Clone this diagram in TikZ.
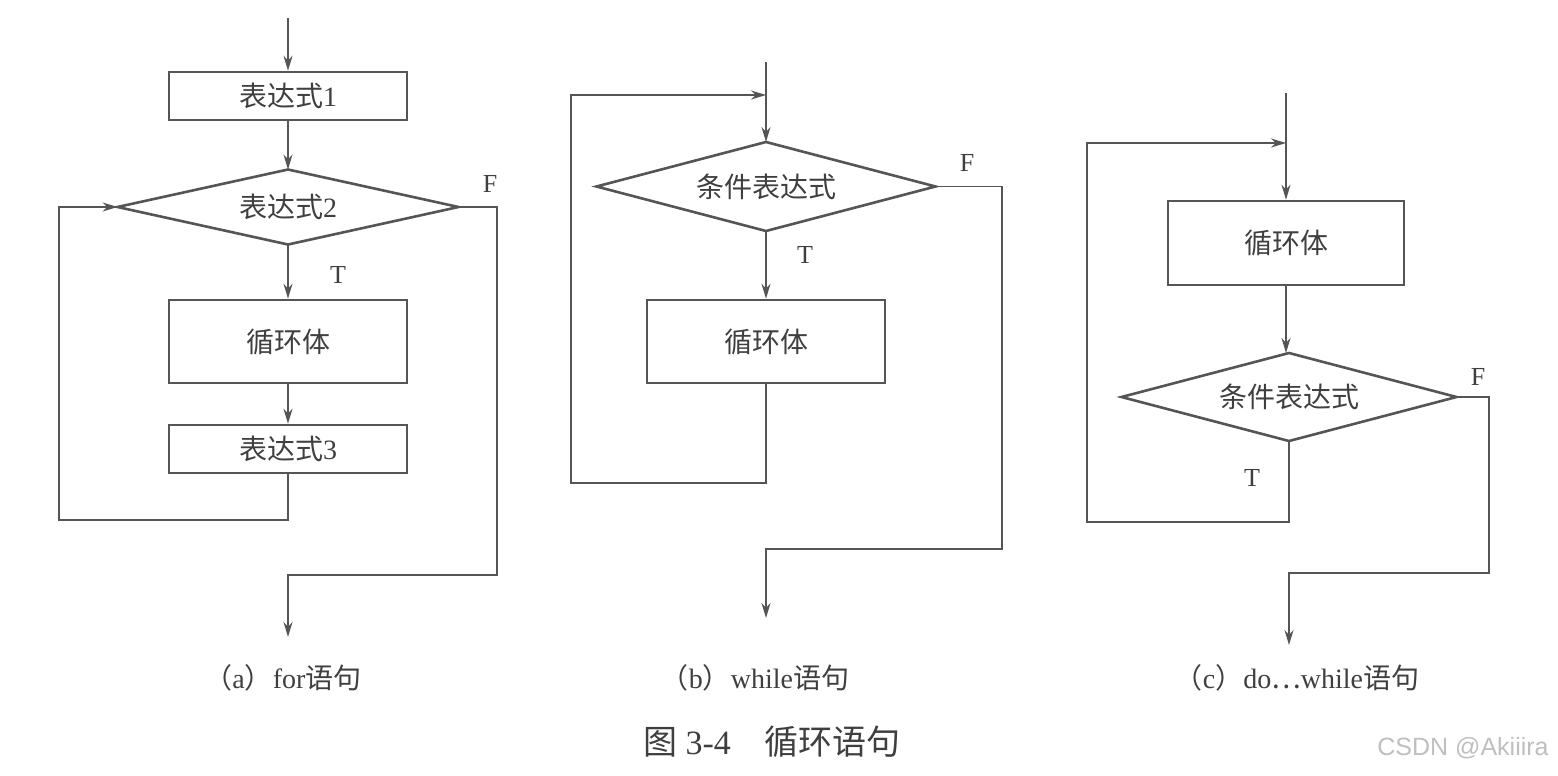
\documentclass[tikz,border=0pt]{standalone}
\usepackage{fontspec}
\setmainfont{Liberation Serif}
\newfontfamily\cjk{Noto Sans CJK SC}
\newfontfamily\wmfont{Liberation Sans}
\usetikzlibrary{shapes.geometric,arrows.meta}
\definecolor{ink}{HTML}{555555}
\definecolor{txt}{HTML}{3F3F3F}
\tikzset{
  boxnode/.style={draw=ink, line width=1.3pt, rectangle, inner sep=0pt, text=txt, font=\fontsize{14}{16}\selectfont},
  dianode/.style={draw=ink, line width=1.3pt, diamond, inner sep=0pt, outer sep=0pt},
  diatext/.style={text=txt, font=\fontsize{14}{16}\selectfont, inner sep=0pt},
  conn/.style={draw=ink, line width=0.9pt},
  arr/.style={conn, -{Stealth[length=7.5pt, width=4.5pt]}},
  tf/.style={text=txt, font=\fontsize{13}{15}\selectfont, inner sep=0pt},
  subcap/.style={text=txt, font=\fontsize{14}{16}\selectfont, inner sep=0pt},
}
\begin{document}
\begin{tikzpicture}[x=0.5pt, y=-0.5pt]
\useasboundingbox (0,0) rectangle (1558,776);
% ---------------- (a) for ----------------
\coordinate (a0) at (288,18);
\node[boxnode, minimum width=119pt, minimum height=24pt] (b1) at (288,96) {{\cjk 表达式}1};
\node[dianode, minimum width=170.5pt, minimum height=37.5pt] (d1) at (288,207) {};
\node[diatext] (d1t) at (d1.center) {{\cjk 表达式}2};
\node[boxnode, minimum width=119pt, minimum height=41.5pt] (b2) at (288,341.5) {\cjk 循环体};
\node[boxnode, minimum width=119pt, minimum height=24pt] (b3) at (288,449) {{\cjk 表达式}3};
\coordinate (la) at (59,520);
\coordinate (fa) at (497,575);
\coordinate (ae) at (288,637);
\draw[arr] (a0) -- (b1.north);
\draw[arr] (b1.south) -- (d1.north);
\draw[arr] (d1.south) -- (b2.north);
\draw[arr] (b2.south) -- (b3.north);
\draw[arr] (b3.south) |- (la) |- (d1.west);
\draw[arr] (d1.east) -| (fa) -| (ae);
\node[tf] (fa1) at (490,184) {F};
\node[tf] (ta1) at (338,275) {T};
\node[subcap] (capa) at (283,678) {{\cjk （}a{\cjk ）}for{\cjk 语句}};
% ---------------- (b) while ----------------
\coordinate (b0) at (766,62);
\coordinate (jb) at (766,95);
\node[dianode, minimum width=169.5pt, minimum height=44.5pt] (d2) at (766,186.5) {};
\node[diatext] (d2t) at (d2.center) {\cjk 条件表达式};
\node[boxnode, minimum width=119pt, minimum height=41.5pt] (b4) at (766,341.5) {\cjk 循环体};
\coordinate (lb) at (571,483);
\coordinate (fb) at (1002,549);
\coordinate (be) at (766,618);
\draw[conn] (b0) -- (jb);
\draw[arr] (jb) -- (d2.north);
\draw[arr] (d2.south) -- (b4.north);
\draw[arr] (b4.south) |- (lb) |- (jb);
\draw[arr] (d2.east) -| (fb) -| (be);
\node[tf] (fb1) at (967,163) {F};
\node[tf] (tb1) at (805,255) {T};
\node[subcap] (capb) at (755,678) {{\cjk （}b{\cjk ）}while{\cjk 语句}};
% ---------------- (c) do...while ----------------
\coordinate (c0) at (1286,93);
\coordinate (jc) at (1286,143);
\node[boxnode, minimum width=118pt, minimum height=42pt] (b5) at (1286,243) {\cjk 循环体};
\node[dianode, minimum width=167.5pt, minimum height=44pt] (d3) at (1289,397) {};
\node[diatext] (d3t) at (d3.center) {\cjk 条件表达式};
\coordinate (lc) at (1087,522);
\coordinate (fc) at (1489,573);
\coordinate (ce) at (1289,645);
\draw[conn] (c0) -- (jc);
\draw[arr] (jc) -- (b5.north);
\draw[arr] (b5.south) -- (b5.south |- d3.north);
\draw[arr] (d3.south) |- (lc) |- (jc);
\draw[arr] (d3.east) -| (fc) -| (ce);
\node[tf] (fc1) at (1478,377) {F};
\node[tf] (tc1) at (1252,478) {T};
\node[subcap] (capc) at (1297,678) {{\cjk （}c{\cjk ）}do{\cjk …}while{\cjk 语句}};
% ---------------- caption ----------------
\node[text=txt, font=\fontsize{17}{19}\selectfont, inner sep=0pt] (cap) at (772,742) {{\cjk 图} 3-4\hspace{1em}{\cjk 循环语句}};
\node[text=black!25, font=\wmfont\fontsize{12.5}{14}\selectfont, inner sep=0pt] (wm) at (1463,748) {CSDN @Akiiira};
\end{tikzpicture}
\end{document}
